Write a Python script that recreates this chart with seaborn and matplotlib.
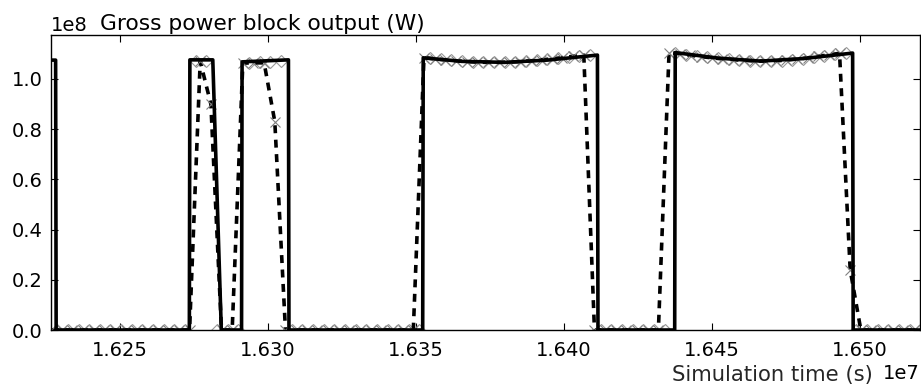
import numpy as np
import pandas as pd
import matplotlib
matplotlib.use("Agg")
import matplotlib.pyplot as plt
import matplotlib.ticker as mticker
import seaborn as sns

# simulation time is kept in hours here and converted to seconds below
# solid line: power block output (event based, so irregular time stamps)
solid_hours = [4506.0, 4507.85, 4507.9, 4520.4, 4520.45, 4522.6, 4523.4,
               4525.3, 4525.35, 4529.7, 4529.75, 4542.3, 4542.35, 4546.0,
               4550.0, 4554.0, 4558.7, 4558.75, 4565.95, 4566.0, 4570.0,
               4574.0, 4578.0, 4582.65, 4582.7, 4590.0]
solid_vals = [1.075, 1.075, 0.0, 0.0, 1.076, 1.076, 0.0,
              0.0, 1.068, 1.076, 0.0, 0.0, 1.084, 1.070,
              1.066, 1.075, 1.095, 0.0, 0.0, 1.105, 1.083,
              1.071, 1.081, 1.103, 0.0, 0.0]

# dashed line with x markers: hourly samples
dash_hours = np.arange(4507.42, 4590.0, 1.0)
dash_vals = ([0.0] * 14
             + [1.07, 0.90, 0.0, 0.0, 1.063, 1.064, 1.064, 0.83]
             + [0.0] * 13
             + [1.085, 1.080, 1.076, 1.072, 1.069, 1.067, 1.066, 1.066,
                1.067, 1.069, 1.072, 1.076, 1.080, 1.085, 1.090, 1.095]
             + [0.0] * 7
             + [1.105, 1.100, 1.094, 1.089, 1.084, 1.080, 1.077, 1.074, 1.072,
                1.071, 1.072, 1.075, 1.079, 1.084, 1.090, 1.096, 1.102, 0.24]
             + [0.0] * 7)

# grey diamond markers: hourly samples
diam_hours = np.arange(4507, 4590, 1.0)
diam_vals = ([0.0] * 14
             + [1.072, 1.072, 0.0, 0.0, 0.0, 1.065, 1.066, 1.068, 1.070]
             + [0.0] * 13
             + [1.082, 1.078, 1.074, 1.070, 1.068, 1.066, 1.066, 1.066,
                1.068, 1.070, 1.074, 1.078, 1.082, 1.087, 1.092, 1.095]
             + [0.0] * 7
             + [1.102, 1.097, 1.091, 1.086, 1.082, 1.078, 1.075, 1.073, 1.071,
                1.071, 1.073, 1.077, 1.081, 1.087, 1.093, 1.099, 1.102]
             + [0.0] * 7)

solid = pd.DataFrame({"t": np.array(solid_hours) * 3600, "p": np.array(solid_vals) * 1e8})
dash = pd.DataFrame({"t": dash_hours * 3600, "p": np.array(dash_vals) * 1e8})
diam = pd.DataFrame({"t": diam_hours * 3600, "p": np.array(diam_vals) * 1e8})

sns.set_style("ticks", {"axes.edgecolor": "black", "text.color": "black",
                        "xtick.color": "black", "ytick.color": "black",
                        "xtick.direction": "in", "ytick.direction": "in"})
plt.rcParams["font.family"] = ["DejaVu Sans"]
plt.rcParams["font.size"] = 14
plt.rcParams["xtick.top"] = True
plt.rcParams["ytick.right"] = True

fig = plt.figure(figsize=(9.21, 3.87), dpi=100)
ax = fig.add_axes([51 / 921, 57 / 387, 869 / 921, 295 / 387])

sns.lineplot(data=diam, x="t", y="p", sort=False, estimator=None, ax=ax,
             color="0.6", linestyle="none", marker="D", ms=6, mfc="none",
             mec="0.6", mew=0.8)
sns.lineplot(data=dash, x="t", y="p", sort=False, estimator=None, ax=ax,
             color="black", lw=2.6, linestyle=(0, (2.2, 1.8)),
             marker="x", ms=7, mec="0.5", mew=0.8)
sns.lineplot(data=solid, x="t", y="p", sort=False, estimator=None, ax=ax,
             color="black", lw=2.6)

ax.set_xlim(16226700, 16520300)
ax.set_ylim(0, 1.175e8)
ax.xaxis.set_major_locator(mticker.MultipleLocator(50000))
ax.yaxis.set_major_locator(mticker.MultipleLocator(2e7))
ax.ticklabel_format(style="sci", scilimits=(0, 0), useOffset=False)
ax.tick_params(labelsize=14, length=5, width=0.8)
ax.tick_params(axis="y", pad=6)
ax.tick_params(axis="x", pad=8)
for s in ax.spines.values():
    s.set_linewidth(1.0)

ax.set_ylabel("")
ax.set_xlabel("Simulation time (s)", fontsize=15.2, ha="right")
ax.xaxis.set_label_coords(0.946, -0.118)
ax.text(0.0564, 1.017, "Gross power block output (W)", transform=ax.transAxes,
        fontsize=15.7, va="baseline", ha="left")

fig.savefig("out.png", dpi=100)
